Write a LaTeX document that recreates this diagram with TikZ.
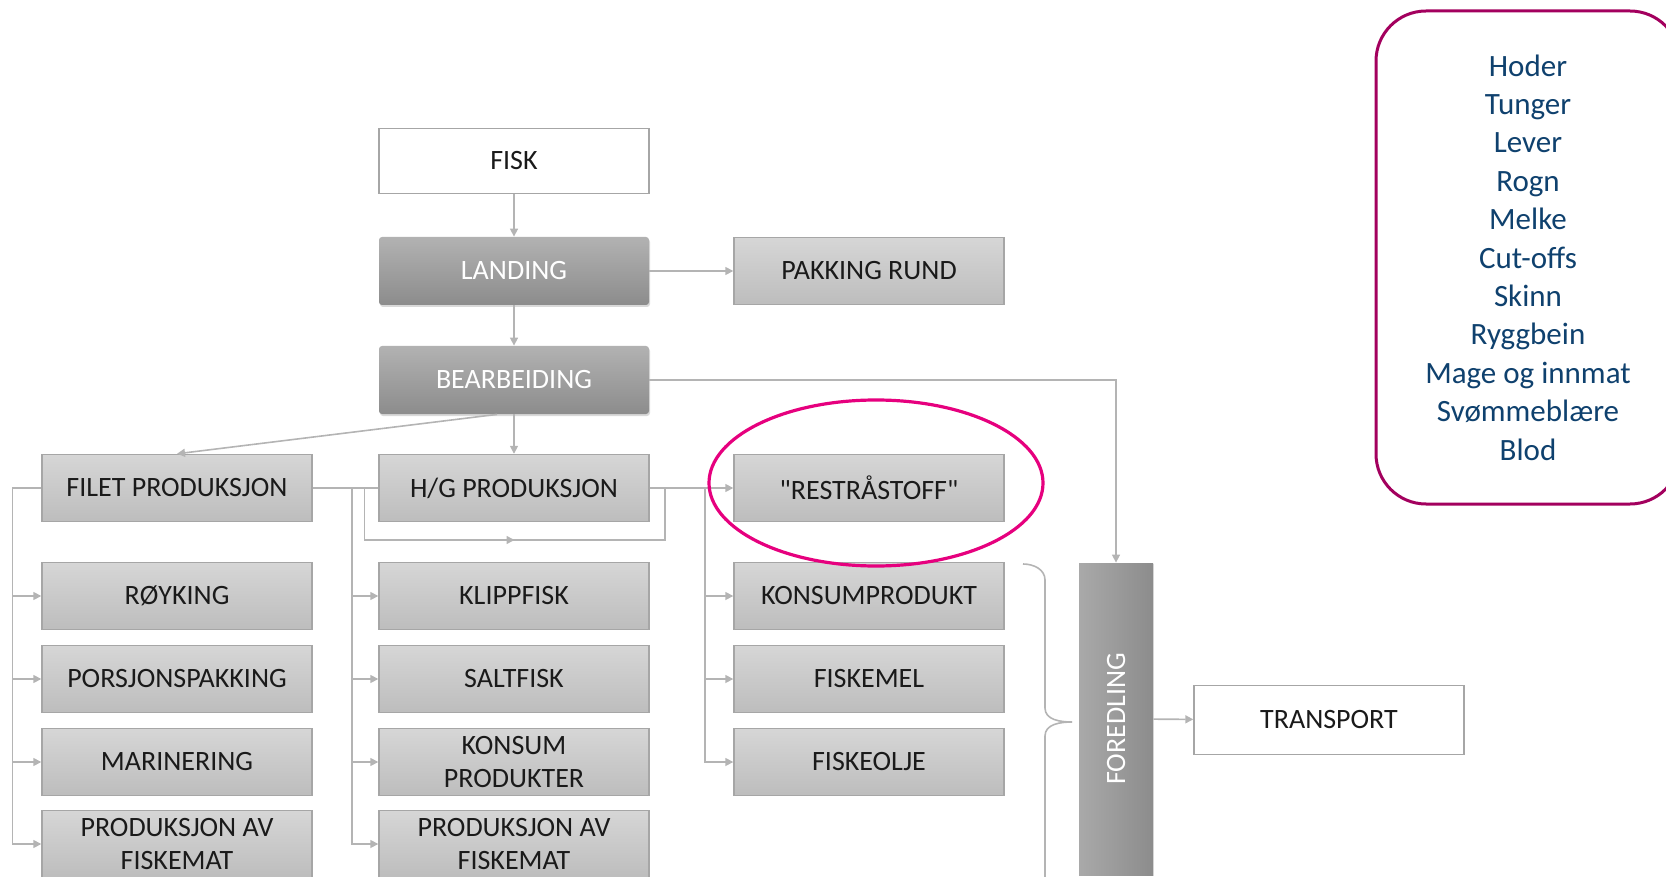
\documentclass[tikz,border=0pt]{standalone}
\usepackage{fontspec}
\setmainfont{Carlito}
\usetikzlibrary{arrows.meta,shadows,decorations.markings}
\definecolor{linegray}{HTML}{B4B4B4}
\definecolor{boxedge}{HTML}{A6A6A6}
\definecolor{litetop}{HTML}{D6D6D6}
\definecolor{litebot}{HTML}{BDBDBD}
\definecolor{darktop}{HTML}{B2B2B2}
\definecolor{darkbot}{HTML}{8C8C8C}
\definecolor{hotpink}{HTML}{E6007E}
\definecolor{plum}{HTML}{A3005E}
\definecolor{navytext}{HTML}{0F416E}
\definecolor{boxtext}{HTML}{1A1A1A}

\begin{document}
\begin{tikzpicture}[x=0.5pt,y=-0.5pt,font=\fontsize{14}{16.5}\selectfont,
  proc/.style={rectangle,draw=boxedge,line width=0.7pt,top color=litetop,bottom color=litebot,
    text=boxtext,minimum width=135pt,minimum height=33.5pt,inner sep=0pt,align=center},
  plainproc/.style={proc,top color=white,bottom color=white},
  darkproc/.style={rectangle,rounded corners=1.5pt,top color=darktop,bottom color=darkbot,
    text=white,minimum width=135pt,minimum height=34pt,inner sep=0pt,
    drop shadow={opacity=0.3,shadow xshift=0.5pt,shadow yshift=-1pt}},
  conn/.style={draw=linegray,line width=0.8pt},
  arr/.style={conn,-{Triangle[length=4pt,width=4pt]},linegray}]
\useasboundingbox (0,0) rectangle (1666,877);
\clip (0,0) rectangle (1666,877);
% main column
\node (fisk) [plainproc,minimum height=32.5pt] at (514,161) {FISK};
\node (landing) [darkproc] at (514,271) {LANDING};
\node (pakking) [proc] at (869,271) {PAKKING RUND};
\node (bearb) [darkproc] at (514,380) {BEARBEIDING};
%
\node (filet) [proc] at (177,488) {FILET PRODUKSJON};
\node (hg) [proc] at (514,488) {H/G PRODUKSJON};
\node (rest) [proc] at (869,488) {\textquotedbl RESTRÅSTOFF\textquotedbl};
%
\node (royk) [proc] at (177,596) {RØYKING};
\node (porsj) [proc] at (177,679) {PORSJONSPAKKING};
\node (marin) [proc] at (177,762) {MARINERING};
\node (fmatA) [proc] at (177,844) {PRODUKSJON AV\\FISKEMAT};
%
\node (klipp) [proc] at (514,596) {KLIPPFISK};
\node (salt) [proc] at (514,679) {SALTFISK};
\node (konsum) [proc] at (514,762) {KONSUM\\PRODUKTER};
\node (fmatB) [proc] at (514,844) {PRODUKSJON AV\\FISKEMAT};
%
\node (kprod) [proc] at (869,596) {KONSUMPRODUKT};
\node (fmel) [proc] at (869,679) {FISKEMEL};
\node (folje) [proc] at (869,762) {FISKEOLJE};
%
\node (fored) [rectangle,left color=darktop!95!black,right color=darkbot,minimum width=37pt,
  minimum height=156pt,drop shadow={opacity=0.25,shadow xshift=0.6pt,shadow yshift=-0.6pt},
  label={[rotate=90,text=white]center:FOREDLING}] at (1116,719) {};
\node (transport) [plainproc,minimum height=34.5pt] at (1329,720) {TRANSPORT};
%
\node (parts) [rectangle,rounded corners=25pt,draw=plum,line width=1.5pt,fill=white,
  minimum width=152pt,minimum height=246.5pt,text=navytext,align=center,
  font=\fontsize{15.5}{19.2}\selectfont] at (1528,257.5)
  {Hoder\\Tunger\\Lever\\Rogn\\Melke\\Cut-offs\\Skinn\\Ryggbein\\Mage og innmat\\Svømmeblære\\Blod};
%
\path[arr] (fisk) edge (landing);
\path[arr] (landing) edge (pakking);
\path[arr] (landing) edge (bearb);
\path[arr] (bearb) edge (hg);
\draw[arr] ([xshift=-8.5pt]bearb.south) -- (filet.north);
\draw[arr] (bearb.east) -| (fored.north);
%
\foreach \n in {royk,porsj,marin,fmatA}
  \draw[arr] (filet.west) -- ++(-29,0) |- (\n.west);
\draw[conn] (filet.east) -- (hg.west);
\foreach \n in {klipp,salt,konsum,fmatB}
  \draw[arr] (filet.east) -- ++(39,0) |- (\n.west);
\draw[conn,postaction={decorate},decoration={markings,
    mark=at position 0.5 with {\arrow[linegray]{Triangle[length=4pt,width=4pt]}}}]
  ([xshift=-7pt]hg.west) -- ++(0,52) -| ([xshift=7.5pt]hg.east);
%
\draw[arr] (hg.east) -- (rest.west);
\foreach \n in {kprod,fmel,folje}
  \draw[arr] (hg.east) -- ++(55,0) |- (\n.west);
%
\draw[conn] (1023,564) to[out=0,in=90] (1045,580) -- (1045,708) to[out=-90,in=180] (1072,722);
\draw[conn] (1072,722) to[out=180,in=90] (1045,736) -- (1045,890);
\path[arr] (fored) edge (transport);
%
\draw[hotpink,line width=1.6pt] (876,483) ellipse [x radius=83.5pt,y radius=41.5pt];
\end{tikzpicture}
\end{document}
